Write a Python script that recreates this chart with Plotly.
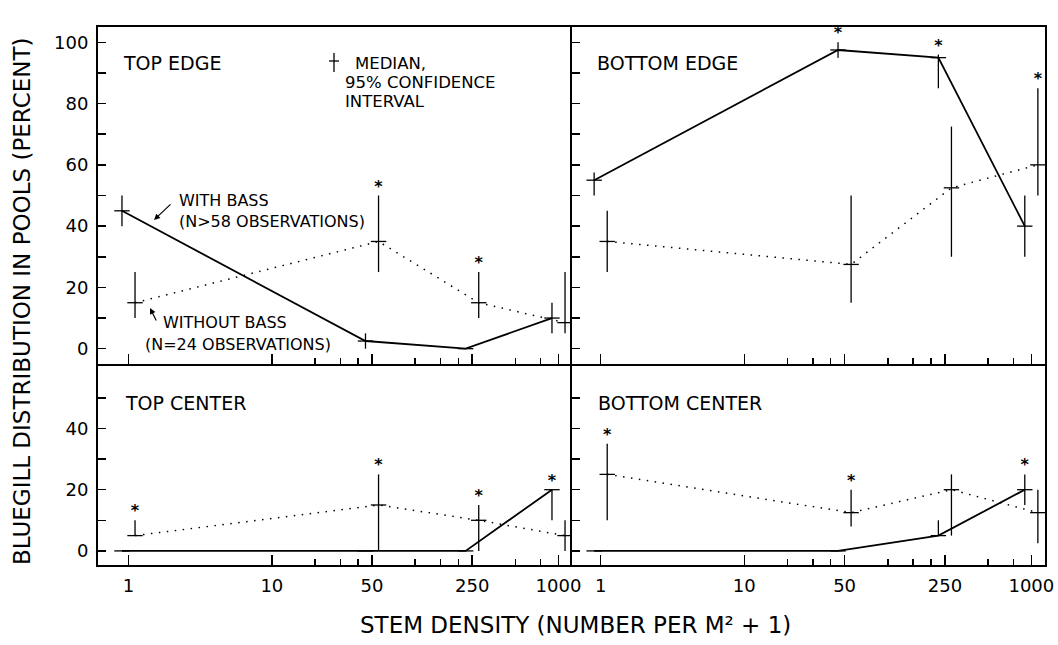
import plotly.graph_objects as go

# ---------------- data ----------------
density = [1, 50, 250, 1000]
tick_vals = [1, 10, 50, 250, 1000]
tick_text = ["1", "10", "50", "250", "1000"]
minor_vals = [20, 30, 40, 100, 150, 200, 500, 750]

panel_names = ["TOP EDGE", "BOTTOM EDGE", "TOP CENTER", "BOTTOM CENTER"]

# with bass (solid line): median, lower CI, upper CI, significance star
with_med = {
    "TOP EDGE": [45, 2.5, 0, 10],
    "BOTTOM EDGE": [55, 97.5, 95, 40],
    "TOP CENTER": [0, 0, 0, 20],
    "BOTTOM CENTER": [0, 0, 5, 20],
}
with_lo = {
    "TOP EDGE": [40, 0, 0, 5],
    "BOTTOM EDGE": [50, 95, 85, 30],
    "TOP CENTER": [0, 0, 0, 10],
    "BOTTOM CENTER": [0, 0, 5, 15],
}
with_hi = {
    "TOP EDGE": [50, 5, 0, 15],
    "BOTTOM EDGE": [57.5, 100, 96, 50],
    "TOP CENTER": [0, 0, 0, 20],
    "BOTTOM CENTER": [0, 0, 10, 25],
}
with_star = {
    "TOP EDGE": [0, 0, 0, 0],
    "BOTTOM EDGE": [0, 1, 1, 0],
    "TOP CENTER": [0, 0, 0, 1],
    "BOTTOM CENTER": [0, 0, 0, 1],
}

# without bass (dotted line)
without_med = {
    "TOP EDGE": [15, 35, 15, 8.5],
    "BOTTOM EDGE": [35, 27.5, 52.5, 60],
    "TOP CENTER": [5, 15, 10, 5],
    "BOTTOM CENTER": [25, 12.5, 20, 12.5],
}
without_lo = {
    "TOP EDGE": [10, 25, 10, 5],
    "BOTTOM EDGE": [25, 15, 30, 50],
    "TOP CENTER": [5, 0, 0, 0],
    "BOTTOM CENTER": [10, 8, 5, 2.5],
}
without_hi = {
    "TOP EDGE": [25, 50, 25, 25],
    "BOTTOM EDGE": [45, 50, 72.5, 85],
    "TOP CENTER": [10, 25, 15, 10],
    "BOTTOM CENTER": [35, 20, 25, 20],
}
without_star = {
    "TOP EDGE": [0, 1, 1, 0],
    "BOTTOM EDGE": [0, 0, 0, 1],
    "TOP CENTER": [1, 1, 1, 0],
    "BOTTOM CENTER": [1, 1, 0, 0],
}

# ---------------- style ----------------
FONT = "DejaVu Sans"
W, H = 1058, 645
with_shift = 0.9      # horizontal stagger of the two series on the log axis
without_shift = 1.11

axis_ids = [("x", "y"), ("x2", "y2"), ("x3", "y3"), ("x4", "y4")]

fig = go.Figure()


def add_series(name, med, lo, hi, star, shift, dash, width, xa, ya):
    xs = [d * shift for d in density]
    fig.add_trace(go.Scatter(
        x=xs, y=med, xaxis=xa, yaxis=ya, mode="lines+markers",
        line=dict(color="black", width=width, dash=dash),
        marker=dict(symbol="line-ew-open", size=11,
                    line=dict(width=1.3, color="black")),
        error_y=dict(type="data", symmetric=False,
                     array=[h - m for h, m in zip(hi, med)],
                     arrayminus=[m - l for m, l in zip(med, lo)],
                     color="black", thickness=1.3, width=0),
        showlegend=False, hoverinfo="skip", name=name,
    ))
    sx = [x for x, s in zip(xs, star) if s]
    sy = [h for h, s in zip(hi, star) if s]
    if sx:
        fig.add_trace(go.Scatter(
            x=sx, y=sy, xaxis=xa, yaxis=ya, mode="text", text=["<b>*</b>"] * len(sx),
            textposition="top center",
            textfont=dict(family=FONT, size=16, color="#000000"),
            showlegend=False, hoverinfo="skip",
        ))


for name, (xa, ya) in zip(panel_names, axis_ids):
    add_series(name, with_med[name], with_lo[name], with_hi[name],
               with_star[name], with_shift, "solid", 1.8, xa, ya)
    add_series(name, without_med[name], without_lo[name], without_hi[name],
               without_star[name], without_shift, "1.5px,6.5px", 1.5, xa, ya)


def px_x(p):
    return p / W


def px_y(p):
    return 1 - p / H


# axis lines are drawn just outside the domain, so leave a 2px gap
# between neighbouring panels to make the shared borders coincide
x_dom_left = [px_x(98), px_x(570)]
x_dom_right = [px_x(572), px_x(1045)]
y_dom_top = [px_y(364), px_y(27)]
y_dom_bot = [px_y(565), px_y(366)]


def xaxis(domain, rng, labels, anchor):
    return dict(
        type="log", domain=domain, range=rng, anchor=anchor, automargin=False,
        tickvals=tick_vals, ticktext=tick_text, showticklabels=labels,
        ticks="inside", ticklen=10, tickwidth=1.5, tickcolor="black",
        minor=dict(tickvals=minor_vals, ticks="inside", ticklen=6,
                   tickwidth=1.5, tickcolor="black"),
        showline=True, mirror=True, linecolor="black", linewidth=2,
        showgrid=False, zeroline=False, ticklabelstandoff=3,
        tickfont=dict(family=FONT, size=18, color="black"),
    )


def yaxis(domain, rng, top, labels, anchor):
    if top:
        vals = list(range(0, 101, 10))
    else:
        vals = list(range(0, 51, 10))
    text = [str(v) if v % 20 == 0 else "" for v in vals]
    return dict(
        domain=domain, range=rng, anchor=anchor, automargin=False,
        tickvals=vals, ticktext=text, showticklabels=labels,
        ticks="inside", ticklen=8, tickwidth=1.5, tickcolor="black",
        showline=True, mirror=True, linecolor="black", linewidth=2,
        showgrid=False, zeroline=False, ticklabelstandoff=4,
        tickfont=dict(family=FONT, size=18, color="black"),
    )


top_rng = [-5.0, 105.0]
bot_rng = [-4.6, 60.4]

fig.update_layout(
    template="none",
    width=W, height=H, autosize=False,
    margin=dict(l=0, r=0, t=0, b=0),
    paper_bgcolor="white", plot_bgcolor="white",
    font=dict(family=FONT, color="black"),
    xaxis=xaxis(x_dom_left, [-0.213, 3.08], False, "y"),
    xaxis2=xaxis(x_dom_right, [-0.200, 3.095], False, "y2"),
    xaxis3=xaxis(x_dom_left, [-0.213, 3.08], True, "y3"),
    xaxis4=xaxis(x_dom_right, [-0.200, 3.095], True, "y4"),
    yaxis=yaxis(y_dom_top, top_rng, True, True, "x"),
    yaxis2=yaxis(y_dom_top, top_rng, True, False, "x2"),
    yaxis3=yaxis(y_dom_bot, bot_rng, False, True, "x3"),
    yaxis4=yaxis(y_dom_bot, bot_rng, False, False, "x4"),
)

annotations = []


def label(text, x, y, size, xanchor="left", angle=0):
    annotations.append(dict(
        text=text, x=px_x(x), y=px_y(y), xref="paper", yref="paper",
        xanchor=xanchor, yanchor="middle", showarrow=False, textangle=angle,
        font=dict(family=FONT, size=size, color="black"),
    ))


label("TOP EDGE", 121, 63, 19)
label("BOTTOM EDGE", 595, 63, 19)
label("TOP CENTER", 123, 403, 19)
label("BOTTOM CENTER", 596, 403, 19)
label("MEDIAN,", 353, 63, 16.5)
label("95% CONFIDENCE", 343, 82, 16.5)
label("INTERVAL", 343, 101, 16.5)
label("WITH BASS", 177, 200, 16)
label("(N>58 OBSERVATIONS)", 177, 221, 16)
label("WITHOUT BASS", 161, 322, 16)
label("(N=24 OBSERVATIONS)", 143, 344, 16)
label("BLUEGILL DISTRIBUTION IN POOLS (PERCENT)", 22, 302, 23,
      xanchor="center", angle=-90)
label("STEM DENSITY (NUMBER PER M² + 1)", 575, 625, 23, xanchor="center")

# arrows pointing from the series labels to the lines
for head, tail in [((154, 220), (172, 203)), ((150, 308), (157, 322))]:
    annotations.append(dict(
        text="", x=px_x(head[0]), y=px_y(head[1]), xref="paper", yref="paper",
        ax=tail[0] - head[0], ay=tail[1] - head[1], showarrow=True,
        arrowhead=2, arrowsize=1, arrowwidth=1.2, arrowcolor="black",
    ))

fig.update_layout(annotations=annotations)

# legend glyph: median tick with confidence interval
fig.update_layout(shapes=[
    dict(type="line", xref="paper", yref="paper",
         x0=px_x(334), x1=px_x(334), y0=px_y(53), y1=px_y(72),
         line=dict(color="black", width=1.3)),
    dict(type="line", xref="paper", yref="paper",
         x0=px_x(329), x1=px_x(339), y0=px_y(61), y1=px_y(61),
         line=dict(color="black", width=1.3)),
])

fig.write_html(
    "out.html",
    config={"displayModeBar": False, "staticPlot": True},
    post_script="document.body.style.margin='0';"
                "document.body.style.overflow='hidden';",
)
